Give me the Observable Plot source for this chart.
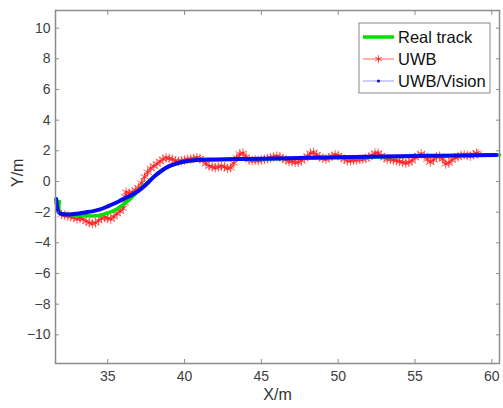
<!DOCTYPE html>
<html><head><meta charset="utf-8">
<script src="https://cdn.jsdelivr.net/npm/d3@7"></script>
<script src="https://cdn.jsdelivr.net/npm/@observablehq/plot@0.6"></script>
<style>body{margin:0;background:#fff}</style></head>
<body><div id="chart"></div>
<script>
const xTicks = [35, 40, 45, 50, 55, 60];
const yTicks = [-10, -8, -6, -4, -2, 0, 2, 4, 6, 8, 10];
const seriesNames = ["Real track", "UWB", "UWB/Vision"];

const realTrack = [
  [31.85,-1.3],[31.9,-2.05],[32.5,-2.15],[33.0,-2.2],[33.5,-2.22],[34.0,-2.25],[34.5,-2.2],
  [35.0,-2.05],[35.5,-1.85],[36.0,-1.5],[36.5,-1.1],[37.0,-0.6],[37.2,-0.4],[37.6,-0.05],
  [38.0,0.3],[38.5,0.7],[39.0,0.98],[39.5,1.16],[40.0,1.28],[40.5,1.35],[41.0,1.4],
  [43.0,1.43],[45.0,1.47],[48.0,1.53],[50.0,1.56],[53.0,1.61],[56.0,1.66],[58.0,1.69],[60.5,1.72]
];

const uwb = [
  [32.0,-2.15],[32.2,-2.2],[32.4,-2.25],[32.6,-2.3],[32.8,-2.35],[33.0,-2.45],[33.2,-2.4],[33.4,-2.45],
  [33.6,-2.6],[33.8,-2.7],[34.0,-2.75],[34.2,-2.7],[34.4,-2.55],[34.6,-2.4],[34.8,-2.35],[35.0,-2.4],
  [35.2,-2.45],[35.4,-2.3],[35.6,-2.1],[35.8,-1.95],[36.0,-1.75],[36.1,-1.4],[36.15,-1.0],[36.2,-0.7],
  [36.4,-0.75],[36.6,-0.7],[36.8,-0.55],[37.0,-0.4],[37.2,-0.1],[37.4,0.3],[37.6,0.6],[37.8,0.85],
  [38.0,1.0],[38.2,1.15],[38.4,1.3],[38.6,1.45],[38.8,1.55],[39.0,1.5],[39.2,1.45],[39.4,1.35],
  [39.6,1.3],[39.8,1.35],[40.0,1.4],[40.2,1.45],[40.4,1.45],[40.6,1.5],[40.8,1.55],[41.0,1.5],
  [41.2,1.35],[41.4,1.15],[41.6,1.0],[41.8,0.95],[42.0,0.9],[42.2,0.95],[42.4,1.0],[42.6,0.95],
  [42.8,0.85],[43.0,0.9],[43.2,1.2],[43.4,1.55],[43.6,1.8],[43.8,1.85],[44.0,1.6],[44.2,1.4],
  [44.4,1.35],[44.6,1.4],[44.8,1.35],[45.0,1.4],[45.2,1.45],[45.4,1.5],[45.6,1.55],[45.8,1.6],
  [46.0,1.65],[46.2,1.6],[46.4,1.5],[46.6,1.4],[46.8,1.3],[47.0,1.3],[47.2,1.25],[47.4,1.25],
  [47.6,1.35],[47.8,1.5],[48.0,1.65],[48.2,1.85],[48.4,1.9],[48.6,1.75],[48.8,1.6],[49.0,1.5],
  [49.2,1.45],[49.4,1.55],[49.6,1.65],[49.8,1.75],[50.0,1.7],[50.2,1.55],[50.4,1.45],[50.6,1.35],
  [50.8,1.35],[51.0,1.4],[51.2,1.4],[51.4,1.45],[51.6,1.45],[51.8,1.5],[52.0,1.6],[52.2,1.7],
  [52.4,1.85],[52.6,1.85],[52.8,1.7],[53.0,1.55],[53.2,1.45],[53.4,1.45],[53.6,1.4],[53.8,1.35],
  [54.0,1.3],[54.2,1.25],[54.4,1.2],[54.6,1.25],[54.8,1.35],[55.0,1.55],[55.2,1.7],[55.4,1.8],
  [55.6,1.7],[55.8,1.45],[56.0,1.25],[56.2,1.4],[56.4,1.6],[56.6,1.65],[56.8,1.45],[57.0,1.15],
  [57.2,1.2],[57.4,1.4],[57.6,1.55],[57.8,1.6],[58.0,1.7],[58.2,1.75],[58.4,1.7],[58.6,1.65],
  [58.8,1.75],[59.0,1.85],[59.1,1.8]
];

const uwbVision = [
  [31.65,-1.15],[31.7,-1.6],[31.8,-2.0],[32.0,-2.12],[32.5,-2.15],[33.0,-2.1],[33.5,-2.02],
  [34.0,-1.95],[34.5,-1.82],[35.0,-1.62],[35.5,-1.4],[36.0,-1.15],[36.5,-0.92],[37.0,-0.62],
  [37.5,-0.2],[38.0,0.3],[38.5,0.7],[39.0,1.0],[39.5,1.18],[40.0,1.3],[40.5,1.37],[41.0,1.42],
  [42.0,1.44],[44.0,1.47],[46.0,1.5],[48.0,1.55],[50.0,1.58],[52.0,1.62],[54.0,1.65],
  [56.0,1.67],[58.0,1.7],[60.3,1.72]
];

const green = "#00e000", red = "#ff1a1a", blue = "#0a0af0";
const axisColor = "#8c8c8c", tickText = "#404040";
const X = d => d[0], Y = d => d[1];

const chart = Plot.plot({
  width: 503, height: 408,
  marginLeft: 55, marginRight: 4, marginTop: 10, marginBottom: 45,
  style: {fontFamily: "'Liberation Sans', Arial, sans-serif", fontSize: "14px", background: "#fff"},
  x: {domain: [31.6, 60.5]},
  y: {domain: [-11.87, 11.15]},
  marks: [
    Plot.line(uwb, {x: X, y: Y, stroke: red, strokeWidth: 3, strokeOpacity: 0.6}),
    Plot.dot(uwb, {x: X, y: Y, symbol: "asterisk", r: 4.5, stroke: red, strokeWidth: 1, strokeOpacity: 0.7}),
    Plot.line(realTrack, {x: X, y: Y, stroke: green, strokeWidth: 3.5, curve: "catmull-rom"}),
    Plot.line(uwbVision, {x: X, y: Y, stroke: blue, strokeWidth: 4, curve: "catmull-rom"}),
    Plot.frame({stroke: axisColor, strokeWidth: 1.5}),
    Plot.axisX(xTicks, {anchor: "bottom", tickSize: -4, tickPadding: 12, stroke: axisColor, fill: tickText, label: null}),
    Plot.axisX(xTicks, {anchor: "top", tickSize: -4, tickFormat: () => "", stroke: axisColor, label: null}),
    Plot.axisY(yTicks, {anchor: "left", tickSize: -4, tickPadding: 9, stroke: axisColor, fill: tickText, label: null}),
    Plot.axisY(yTicks, {anchor: "right", tickSize: -4, tickFormat: () => "", stroke: axisColor, label: null}),
    Plot.text(["X/m"], {frameAnchor: "bottom", dy: 36, fontSize: 16, fill: "#333"}),
    Plot.text(["Y/m"], {frameAnchor: "left", dx: -38, rotate: -90, fontSize: 16, fill: "#333"})
  ]
});

// legend
const svg = d3.select(chart);
const lg = svg.append("g").attr("font-family", "'Liberation Sans', Arial, sans-serif").attr("font-size", "16.5px").attr("text-anchor", "start");
lg.append("rect").attr("x", 359).attr("y", 23).attr("width", 131).attr("height", 70)
  .attr("fill", "#fff").attr("stroke", "#8a8a8a").attr("stroke-width", 1);
const rows = [37, 59, 81];
lg.append("line").attr("x1", 363).attr("x2", 394).attr("y1", rows[0]).attr("y2", rows[0]).attr("stroke", green).attr("stroke-width", 3.5);
lg.append("line").attr("x1", 363).attr("x2", 394).attr("y1", rows[1]).attr("y2", rows[1]).attr("stroke", "#ff6060").attr("stroke-width", 1);
lg.append("path").attr("d", d3.symbol(d3.symbolAsterisk, 40)()).attr("transform", `translate(378.5,${rows[1]})`).attr("stroke", red).attr("stroke-width", 0.8).attr("fill", "none");
lg.append("line").attr("x1", 363).attr("x2", 394).attr("y1", rows[2]).attr("y2", rows[2]).attr("stroke", "#9a9aff").attr("stroke-width", 1);
lg.append("circle").attr("cx", 378.5).attr("cy", rows[2]).attr("r", 1.6).attr("fill", blue);
seriesNames.forEach((n, i) => {
  lg.append("text").attr("x", 398).attr("y", rows[i]).attr("dy", "0.35em").attr("text-anchor", "start").attr("fill", "#111").text(n);
});

document.getElementById("chart").appendChild(chart);
</script>
</body></html>
